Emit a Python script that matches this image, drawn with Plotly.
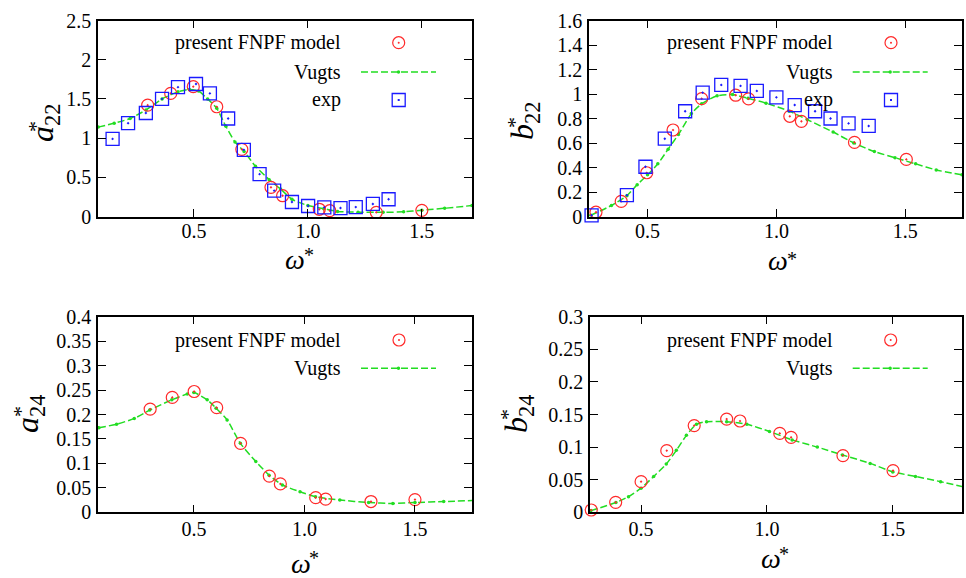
import plotly.graph_objects as go

W, H = 966, 578

# ---------------- data ----------------
# panel 1: a*22
a22_fnpf_x = [0.297, 0.398, 0.497, 0.600, 0.710, 0.838, 0.889, 1.050, 1.096, 1.300, 1.500]
a22_fnpf_y = [1.42, 1.57, 1.656, 1.40, 0.857, 0.372, 0.265, 0.092, 0.074, 0.053, 0.079]
a22_exp_x = [0.143, 0.211, 0.289, 0.360, 0.430, 0.509, 0.570, 0.650, 0.719, 0.788, 0.852,
             0.930, 1.001, 1.072, 1.143, 1.210, 1.285, 1.354]
a22_exp_y = [0.99, 1.19, 1.32, 1.50, 1.65, 1.69, 1.57, 1.25, 0.85, 0.54, 0.33,
             0.185, 0.134, 0.117, 0.108, 0.12, 0.16, 0.22]
a22_vugts_x = [0.08, 0.15, 0.22, 0.29, 0.36, 0.43, 0.48, 0.52, 0.56, 0.60, 0.64, 0.68, 0.72,
               0.77, 0.83, 0.88, 0.93, 1.00, 1.07, 1.13, 1.22, 1.33, 1.42, 1.50, 1.60, 1.72]
a22_vugts_y = [1.14, 1.19, 1.25, 1.36, 1.50, 1.59, 1.62, 1.60, 1.50, 1.38, 1.15, 0.95, 0.83,
               0.64, 0.47, 0.35, 0.22, 0.14, 0.10, 0.065, 0.055, 0.053, 0.06, 0.08, 0.105, 0.14]

# panel 2: b*22
b22_fnpf_x = [0.300, 0.398, 0.497, 0.599, 0.710, 0.842, 0.892, 1.052, 1.097, 1.303, 1.504]
b22_fnpf_y = [0.035, 0.123, 0.357, 0.706, 0.962, 0.99, 0.96, 0.818, 0.777, 0.605, 0.466]
b22_exp_x = [0.283, 0.420, 0.492, 0.567, 0.646, 0.714, 0.786, 0.861, 0.924, 1.000, 1.071,
             1.150, 1.210, 1.280, 1.358]
b22_exp_y = [0.01, 0.174, 0.406, 0.635, 0.859, 1.011, 1.074, 1.066, 1.025, 0.973, 0.91,
             0.859, 0.80, 0.76, 0.739]
b22_vugts_x = [0.28, 0.36, 0.42, 0.46, 0.50, 0.54, 0.58, 0.62, 0.67, 0.71, 0.77, 0.83, 0.89,
               0.96, 1.05, 1.12, 1.22, 1.30, 1.38, 1.46, 1.54, 1.62, 1.72]
b22_vugts_y = [0.01, 0.09, 0.17, 0.26, 0.34, 0.43, 0.55, 0.67, 0.84, 0.92, 0.985, 0.995, 0.965,
               0.925, 0.86, 0.79, 0.69, 0.60, 0.53, 0.48, 0.43, 0.38, 0.34]

# panel 3: a*24
a24_fnpf_x = [0.302, 0.402, 0.501, 0.603, 0.711, 0.841, 0.891, 1.051, 1.096, 1.301, 1.500]
a24_fnpf_y = [0.211, 0.235, 0.247, 0.214, 0.141, 0.074, 0.058, 0.030, 0.027, 0.022, 0.026]
a24_vugts_x = [0.07, 0.15, 0.23, 0.30, 0.40, 0.47, 0.50, 0.56, 0.60, 0.65, 0.71, 0.78, 0.84,
               0.90, 0.98, 1.05, 1.16, 1.29, 1.40, 1.50, 1.63, 1.76]
a24_vugts_y = [0.173, 0.180, 0.192, 0.209, 0.230, 0.242, 0.245, 0.230, 0.213, 0.189, 0.141,
               0.104, 0.076, 0.056, 0.042, 0.032, 0.025, 0.020, 0.018, 0.020, 0.022, 0.024]

# panel 4: b*24
b24_fnpf_x = [0.302, 0.399, 0.500, 0.602, 0.711, 0.840, 0.893, 1.051, 1.096, 1.302, 1.501]
b24_fnpf_y = [0.0035, 0.0153, 0.047, 0.0945, 0.133, 0.143, 0.140, 0.121, 0.115, 0.087, 0.064]
b24_vugts_x = [0.30, 0.40, 0.45, 0.50, 0.55, 0.60, 0.64, 0.68, 0.72, 0.76, 0.84, 0.92, 1.01,
               1.10, 1.20, 1.30, 1.41, 1.50, 1.59, 1.69, 1.78]
b24_vugts_y = [0.0025, 0.015, 0.024, 0.037, 0.055, 0.074, 0.095, 0.118, 0.135, 0.139, 0.139,
               0.135, 0.124, 0.111, 0.100, 0.088, 0.075, 0.062, 0.055, 0.047, 0.039]

x_tick_vals = [0.5, 1.0, 1.5]
x_tick_text = ["0.5", "1.0", "1.5"]

legend_labels = ["present FNPF model", "Vugts", "exp"]
y_titles = ["<i>a</i><sub>22</sub>", "<i>b</i><sub>22</sub>",
            "<i>a</i><sub>24</sub>", "<i>b</i><sub>24</sub>"]
title_star = "*"
x_title = "<i>ω</i>"

# ---------------- style ----------------
FONT = "Liberation Serif, DejaVu Serif, Times New Roman, serif"
GREEN = "#22dd22"
RED = "#ff2a2a"
BLUE = "#1a1aff"


def fx(px):
    return px / W


def fy(py):
    return 1 - py / H


panels = [
    dict(x=a22_vugts_x, y=a22_vugts_y, fx_=a22_fnpf_x, fy_=a22_fnpf_y, ex=a22_exp_x, ey=a22_exp_y,
         xdom=(98, 472), ydom=(20.5, 216.5), xr=(0.079, 1.72), yr=(0, 2.5), dt=0.5, so=-4),
    dict(x=b22_vugts_x, y=b22_vugts_y, fx_=b22_fnpf_x, fy_=b22_fnpf_y, ex=b22_exp_x, ey=b22_exp_y,
         xdom=(589, 962), ydom=(20.5, 216.5), xr=(0.273, 1.72), yr=(0, 1.6), dt=0.2, so=-4),
    dict(x=a24_vugts_x, y=a24_vugts_y, fx_=a24_fnpf_x, fy_=a24_fnpf_y, ex=None, ey=None,
         xdom=(98, 472), ydom=(316.7, 512.3), xr=(0.066, 1.758), yr=(0, 0.4), dt=0.05, so=-2),
    dict(x=b24_vugts_x, y=b24_vugts_y, fx_=b24_fnpf_x, fy_=b24_fnpf_y, ex=None, ey=None,
         xdom=(590, 962), ydom=(316.7, 512.3), xr=(0.297, 1.775), yr=(0, 0.3), dt=0.05, so=-2),
]

fig = go.Figure()
layout = dict(width=W, height=H, margin=dict(l=0, r=0, t=0, b=0, pad=0, autoexpand=False),
              paper_bgcolor="white", plot_bgcolor="white", showlegend=False,
              font=dict(family=FONT, size=20, color="black"))

annotations = []
shapes = []

legend_geo = [
    dict(tr=343, sx=398.7, l0=361, l1=436, rows=[42.7, 72, 100]),
    dict(tr=835, sx=891, l0=852.7, l1=927.7, rows=[42.7, 72, 100]),
    dict(tr=343, sx=399, l0=361, l1=436, rows=[340, 368.3]),
    dict(tr=835, sx=890.7, l0=852.7, l1=927.7, rows=[340, 368.3]),
]
ytitle_pos = [(44, 123), (524, 121), (29, 414), (518, 414)]
ystar_pos = [(35, 127), (514, 123), (20, 412), (507, 415)]
xtitle_pos = [(295, 259), (778, 260), (301, 563), (771, 558)]
xstar_pos = [(309, 255), (792, 259), (314, 558), (784, 554)]

for i, p in enumerate(panels):
    n = "" if i == 0 else str(i + 1)
    xa, ya = "x" + n, "y" + n
    fig.add_trace(go.Scatter(x=p["x"], y=p["y"], xaxis=xa, yaxis=ya, mode="lines+markers",
                             line=dict(color=GREEN, width=1.5, dash="7px,3px", shape="spline", smoothing=0.6),
                             marker=dict(color=GREEN, size=3.5)))
    fig.add_trace(go.Scatter(x=p["fx_"], y=p["fy_"], xaxis=xa, yaxis=ya, mode="markers",
                             cliponaxis=False,
                             marker=dict(symbol="circle-open-dot", size=12, color=RED,
                                         line=dict(width=1.2, color=RED))))
    if p["ex"] is not None:
        fig.add_trace(go.Scatter(x=p["ex"], y=p["ey"], xaxis=xa, yaxis=ya, mode="markers",
                                 cliponaxis=False,
                                 marker=dict(symbol="square-open-dot", size=13, color=BLUE,
                                             line=dict(width=1.3, color=BLUE))))
    axcommon = dict(showline=True, linecolor="black", linewidth=1.5, mirror="allticks",
                    ticks="inside", ticklen=8, tickwidth=1, tickcolor="black",
                    showgrid=False, zeroline=False, automargin=False,
                    tickfont=dict(family=FONT, size=20, color="black"))
    layout["xaxis" + n] = dict(domain=[fx(p["xdom"][0]), fx(p["xdom"][1])], range=list(p["xr"]),
                               anchor=ya, tickvals=x_tick_vals, ticktext=x_tick_text,
                               ticklabelstandoff=p["so"], **axcommon)
    layout["yaxis" + n] = dict(domain=[fy(p["ydom"][1]), fy(p["ydom"][0])], range=list(p["yr"]),
                               anchor=xa, dtick=p["dt"], tick0=0, ticklabelstandoff=1, **axcommon)

    g = legend_geo[i]
    for j, yy in enumerate(g["rows"]):
        annotations.append(dict(x=fx(g["tr"]), y=fy(yy), xref="paper", yref="paper",
                                text=legend_labels[j], showarrow=False, xanchor="right",
                                yanchor="middle", font=dict(family=FONT, size=20, color="black")))
    r0 = g["rows"][0]
    shapes.append(dict(type="circle", xref="paper", yref="paper", xsizemode="pixel",
                       ysizemode="pixel", xanchor=fx(g["sx"]), yanchor=fy(r0),
                       x0=-6, x1=6, y0=-6, y1=6, line=dict(color=RED, width=1.2)))
    shapes.append(dict(type="circle", xref="paper", yref="paper", xsizemode="pixel",
                       ysizemode="pixel", xanchor=fx(g["sx"]), yanchor=fy(r0),
                       x0=-1, x1=1, y0=-1, y1=1, fillcolor=RED, line=dict(color=RED, width=0)))
    r1 = g["rows"][1]
    shapes.append(dict(type="line", xref="paper", yref="paper", x0=fx(g["l0"]), x1=fx(g["l1"]),
                       y0=fy(r1), y1=fy(r1), line=dict(color=GREEN, width=1.5, dash="7px,3px")))
    shapes.append(dict(type="circle", xref="paper", yref="paper", xsizemode="pixel",
                       ysizemode="pixel", xanchor=fx((g["l0"] + g["l1"]) / 2), yanchor=fy(r1),
                       x0=-1.7, x1=1.7, y0=-1.7, y1=1.7, fillcolor=GREEN,
                       line=dict(color=GREEN, width=0)))
    if len(g["rows"]) > 2:
        r2 = g["rows"][2]
        shapes.append(dict(type="rect", xref="paper", yref="paper", xsizemode="pixel",
                           ysizemode="pixel", xanchor=fx(g["sx"]), yanchor=fy(r2),
                           x0=-6.5, x1=6.5, y0=-6.5, y1=6.5, line=dict(color=BLUE, width=1.3)))
        shapes.append(dict(type="rect", xref="paper", yref="paper", xsizemode="pixel",
                           ysizemode="pixel", xanchor=fx(g["sx"]), yanchor=fy(r2),
                           x0=-1, x1=1, y0=-1, y1=1, fillcolor=BLUE, line=dict(color=BLUE, width=0)))

    tx, ty = ytitle_pos[i]
    annotations.append(dict(x=fx(tx), y=fy(ty), xref="paper", yref="paper", text=y_titles[i],
                            showarrow=False, textangle=-90, xanchor="center", yanchor="middle",
                            font=dict(family=FONT, size=32, color="black")))
    sx, sy = ystar_pos[i]
    annotations.append(dict(x=fx(sx), y=fy(sy), xref="paper", yref="paper", text=title_star,
                            showarrow=False, textangle=-90, xanchor="center", yanchor="middle",
                            font=dict(family=FONT, size=22, color="black")))
    tx, ty = xtitle_pos[i]
    annotations.append(dict(x=fx(tx), y=fy(ty), xref="paper", yref="paper", text=x_title,
                            showarrow=False, xanchor="center", yanchor="middle",
                            font=dict(family=FONT, size=28, color="black")))
    sx, sy = xstar_pos[i]
    annotations.append(dict(x=fx(sx), y=fy(sy), xref="paper", yref="paper", text=title_star,
                            showarrow=False, xanchor="center", yanchor="middle",
                            font=dict(family=FONT, size=20, color="black")))

layout["annotations"] = annotations
layout["shapes"] = shapes
fig.update_layout(**layout)
fig.write_html("out.html")
